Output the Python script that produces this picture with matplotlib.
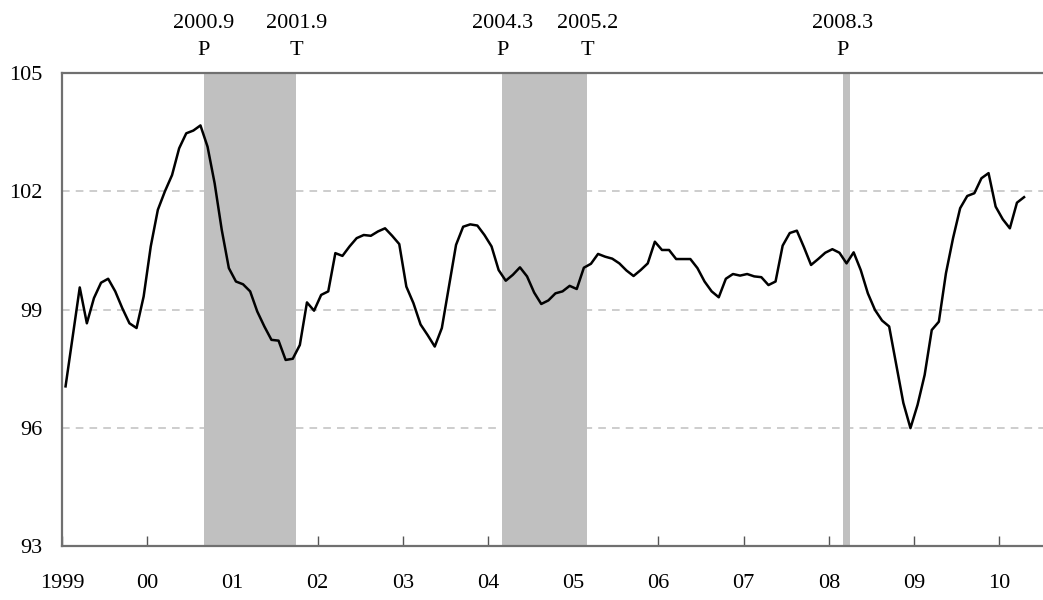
import numpy as np
import matplotlib
matplotlib.use("Agg")
import matplotlib.pyplot as plt
import matplotlib.transforms as mtransforms

# monthly index, Jan 1999 - Apr 2010
index_values = [
    97.05, 98.3, 99.56, 98.65, 99.29, 99.68, 99.78, 99.46, 99.03, 98.65, 98.53, 99.33,
    100.6, 101.53, 102.0, 102.41, 103.09, 103.47, 103.54, 103.67, 103.13, 102.2, 101.02, 100.05,
    99.71, 99.64, 99.46, 98.95, 98.57, 98.23, 98.21, 97.72, 97.75, 98.1, 99.18, 98.97,
    99.37, 99.46, 100.43, 100.36, 100.6, 100.81, 100.89, 100.87, 100.98, 101.06, 100.87, 100.66,
    99.58, 99.16, 98.62, 98.35, 98.06, 98.53, 99.58, 100.64, 101.1, 101.16, 101.13, 100.89,
    100.6, 100.0, 99.73, 99.88, 100.07, 99.84, 99.43, 99.14, 99.23, 99.41, 99.46, 99.6,
    99.52, 100.06, 100.16, 100.41, 100.34, 100.29, 100.17, 99.99, 99.85, 100.0, 100.17, 100.72,
    100.51, 100.51, 100.28, 100.28, 100.28, 100.05, 99.71, 99.46, 99.31, 99.78, 99.9, 99.86,
    99.9, 99.84, 99.82, 99.62, 99.71, 100.62, 100.94, 101.0, 100.58, 100.13, 100.28, 100.44,
    100.53, 100.44, 100.17, 100.45, 100.0, 99.41, 98.99, 98.72, 98.57, 97.6, 96.63, 95.99,
    96.58, 97.34, 98.48, 98.69, 99.92, 100.81, 101.57, 101.88, 101.95, 102.33, 102.46, 101.61,
    101.29, 101.06, 101.71, 101.85,
]
start_year = 1999

# business cycle turning points (peak / trough)
turn_dates = ["2000.9", "2001.9", "2004.3", "2005.2", "2008.3"]
turn_kinds = ["P", "T", "P", "T", "P"]
# recession bands as (peak, trough); last one only one month
bands = [("2000.9", "2001.9"), ("2004.3", "2005.2"), ("2008.3", "2008.3")]

year_ticks = list(range(1999, 2011))
year_labels = ["1999"] + ["%02d" % (y % 100) for y in year_ticks[1:]]
y_ticks = [93, 96, 99, 102, 105]


def month_start(s):
    y, m = s.split(".")
    return int(y) + (int(m) - 1) / 12.0


plt.rcParams["font.family"] = ["Liberation Serif", "DejaVu Serif"]
fs = 16

fig = plt.figure(figsize=(10.43, 6.0), dpi=100)
ax = fig.add_axes([62 / 1043, 54 / 600, 981 / 1043, 473 / 600])

x = start_year + (np.arange(len(index_values)) + 0.5) / 12.0

ax.set_axisbelow(True)
ax.grid(axis="y", color="#c0c0c0", linestyle=(0, (5, 4)), linewidth=1.1)

for p, t in bands:
    ax.axvspan(month_start(p), month_start(t) + 1 / 12.0, color="#c0c0c0", lw=0, zorder=1)

ax.plot(x, index_values, color="black", lw=1.8, zorder=3)

ax.set_xlim(1999, 1999 + 981 / 85.2)
ax.set_ylim(93, 105)
ax.set_yticks(y_ticks)
ax.set_xticks(year_ticks)
ax.set_xticklabels(year_labels)

ax.tick_params(axis="x", direction="in", length=7, width=1, color="#555555",
               pad=20, labelsize=fs)
ax.tick_params(axis="y", length=0, pad=14, labelsize=fs)

for side in ["left", "bottom", "top"]:
    ax.spines[side].set_color("#707070")
    ax.spines[side].set_linewidth(1.6)
ax.spines["right"].set_visible(False)

trans = mtransforms.blended_transform_factory(ax.transData, ax.transAxes)
for d, k in zip(turn_dates, turn_kinds):
    xs = month_start(d)
    if k == "T":
        xs += 1 / 12.0
    ax.text(xs, 1.104, d, transform=trans, ha="center", va="center", fontsize=fs)
    ax.text(xs, 1.048, k, transform=trans, ha="center", va="center", fontsize=fs)

fig.savefig("out.png", dpi=100)
